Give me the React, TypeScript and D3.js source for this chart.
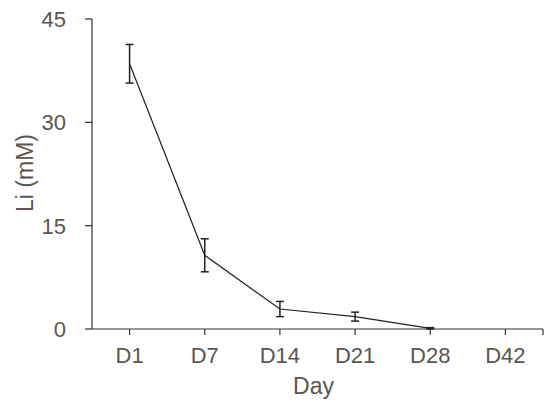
import React, { useEffect, useRef } from 'react';
import * as d3 from 'd3';

const days = ['D1', 'D7', 'D14', 'D21', 'D28', 'D42'];
const liMean: (number | null)[] = [38.5, 10.7, 2.9, 1.8, 0.1, null];
const liErr: (number | null)[] = [2.8, 2.4, 1.1, 0.65, 0.1, null];
const yTicks = [0, 15, 30, 45];

const width = 550;
const height = 406;
const textColor = '#5b5651';
const font = 'Liberation Sans, Arial, sans-serif';

const App = () => {
  const svgRef = useRef<SVGSVGElement>(null);

  useEffect(() => {
    const svg = d3.select(svgRef.current);
    svg.selectAll('*').remove();

    const left = 92, right = 543, top = 19, bottom = 329;

    const x = d3.scaleBand().domain(days).range([left, right]).padding(0);
    const y = d3.scaleLinear().domain([0, 45]).range([bottom, top]);
    const cx = (d: string) => (x(d) as number) + x.bandwidth() / 2;

    const points = days.map((d, i) => ({ day: d, v: liMean[i], e: liErr[i] }));

    // axes
    svg.append('line')
      .attr('x1', left).attr('x2', left).attr('y1', y(45)).attr('y2', bottom)
      .attr('stroke', '#333').attr('stroke-width', 1.2);
    svg.append('line')
      .attr('x1', left).attr('x2', right).attr('y1', bottom).attr('y2', bottom)
      .attr('stroke', '#333').attr('stroke-width', 1.2);

    yTicks.forEach(t => {
      svg.append('line')
        .attr('x1', left - 7).attr('x2', left).attr('y1', y(t)).attr('y2', y(t))
        .attr('stroke', '#333').attr('stroke-width', 1.2);
      svg.append('text')
        .attr('x', 66).attr('y', y(t)).attr('dy', '0.36em')
        .attr('text-anchor', 'end')
        .attr('font-family', font)
        .attr('font-size', 22).attr('fill', textColor)
        .text(t);
    });

    [...days.map(cx), right].forEach(px => {
      svg.append('line')
        .attr('x1', px).attr('x2', px).attr('y1', bottom).attr('y2', bottom + 6)
        .attr('stroke', '#333').attr('stroke-width', 1.2);
    });

    days.forEach(d => {
      svg.append('text')
        .attr('x', cx(d)).attr('y', 363)
        .attr('text-anchor', 'middle')
        .attr('font-family', font)
        .attr('font-size', 22).attr('fill', textColor)
        .text(d);
    });

    svg.append('text')
      .attr('x', (left + right) / 2 - 4).attr('y', 394)
      .attr('text-anchor', 'middle')
      .attr('font-family', font)
      .attr('font-size', 23).attr('fill', textColor)
      .text('Day');

    svg.append('text')
      .attr('transform', `translate(33, 173) rotate(-90)`)
      .attr('text-anchor', 'middle')
      .attr('font-family', font)
      .attr('font-size', 23).attr('fill', textColor)
      .text('Li (mM)');

    // line
    const line = d3.line<typeof points[0]>()
      .defined(d => d.v !== null)
      .x(d => cx(d.day))
      .y(d => y(d.v as number));

    svg.append('path')
      .datum(points)
      .attr('d', line)
      .attr('fill', 'none')
      .attr('stroke', '#222')
      .attr('stroke-width', 1.2);

    // error bars
    const eb = svg.selectAll('.eb')
      .data(points.filter(d => d.v !== null && d.e !== null))
      .enter().append('g').attr('class', 'eb');
    const cap = 4;
    const hi = (d: typeof points[0]) => y((d.v as number) + (d.e as number));
    const lo = (d: typeof points[0]) => y(Math.max(0, (d.v as number) - (d.e as number)));
    eb.append('line')
      .attr('x1', d => cx(d.day)).attr('x2', d => cx(d.day))
      .attr('y1', hi).attr('y2', lo)
      .attr('stroke', '#222').attr('stroke-width', 1.5);
    eb.append('line')
      .attr('x1', d => cx(d.day) - cap).attr('x2', d => cx(d.day) + cap)
      .attr('y1', hi).attr('y2', hi)
      .attr('stroke', '#222').attr('stroke-width', 1.5);
    eb.append('line')
      .attr('x1', d => cx(d.day) - cap).attr('x2', d => cx(d.day) + cap)
      .attr('y1', lo).attr('y2', lo)
      .attr('stroke', '#222').attr('stroke-width', 1.5);
  }, []);

  return (
    <svg
      ref={svgRef}
      width={width}
      height={height}
      style={{ position: 'absolute', left: 0, top: 0, background: '#fff' }}
    />
  );
};

export default App;
